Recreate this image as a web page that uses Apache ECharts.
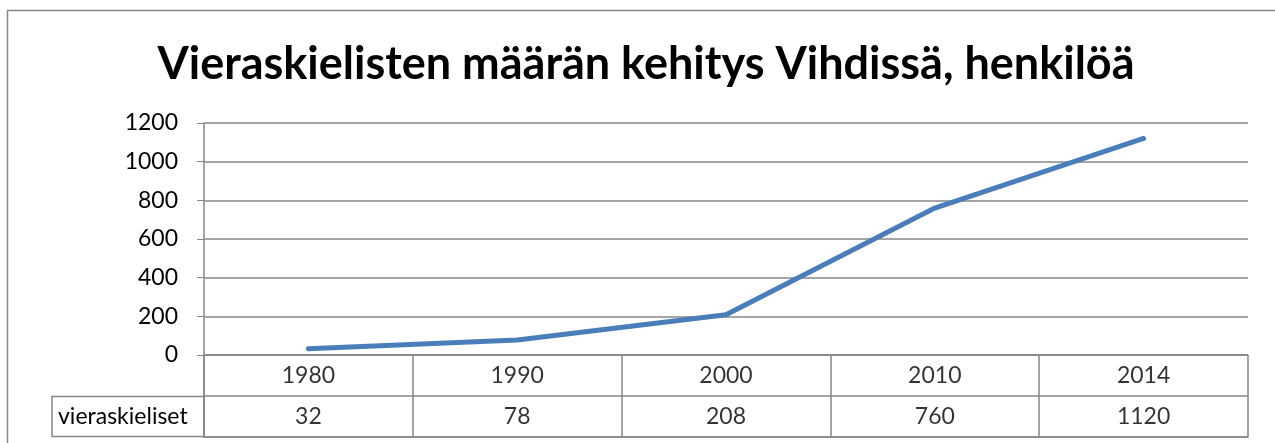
<!DOCTYPE html>
<html>
<head>
<meta charset="utf-8">
<script src="https://cdn.jsdelivr.net/npm/echarts@6/dist/echarts.min.js"></script>
<style>
    html, body { margin: 0; padding: 0; background: #fff; }
    #chart { width: 1275px; height: 443px; }
</style>
</head>
<body>
<div id="chart"></div>
<script>
var years = ['1980', '1990', '2000', '2010', '2014'];
var values = [32, 78, 208, 760, 1120];
var rowNames = ['vuosi', 'vieraskieliset'];
var yTicks = [0, 200, 400, 600, 800, 1000, 1200];

var gray = '#878787';
var font = 'Lato';

var chart = echarts.init(document.getElementById('chart'));

// table cells: row 0 = year, row 1 = value
var tableData = [];
years.forEach(function (y, i) {
    tableData.push({ value: [i, 0], label: { formatter: y } });
    tableData.push({ value: [i, 1], label: { formatter: String(values[i]) } });
});

var option = {
    animation: false,
    graphic: [{
        type: 'rect',
        shape: { x: 7.5, y: 10.5, width: 1400, height: 600 },
        style: { fill: 'none', stroke: gray, lineWidth: 1.5 }
    }],
    title: {
        text: 'Vieraskielisten määrän kehitys Vihdissä, henkilöä',
        left: 641,
        textAlign: 'center',
        top: 37,
        textStyle: { fontFamily: font, fontWeight: 'bold', fontSize: 45, color: '#000' }
    },
    grid: [
        { left: 204, right: 27, top: 123, height: 232 },
        { left: 204, right: 27, top: 355, height: 82 }
    ],
    xAxis: [{
        gridIndex: 0,
        type: 'category',
        data: years,
        boundaryGap: true,
        axisLine: { show: true, lineStyle: { color: gray, width: 1 } },
        axisTick: { show: false },
        axisLabel: { show: false },
        splitLine: { show: false }
    }, {
        gridIndex: 1,
        type: 'category',
        data: years,
        boundaryGap: true,
        axisLine: { show: true, lineStyle: { color: gray, width: 1.5 } },
        axisTick: { show: false },
        axisLabel: { show: false },
        splitLine: { show: true, lineStyle: { color: gray, width: 1.5 } }
    }],
    yAxis: [{
        gridIndex: 0,
        type: 'value',
        min: 0,
        max: 1200,
        interval: 200,
        axisLine: { show: true, lineStyle: { color: gray, width: 1.5 } },
        axisTick: { show: true, length: 7, lineStyle: { color: gray, width: 1 } },
        axisLabel: {
            margin: 26,
            color: '#000',
            fontFamily: font,
            fontSize: 23,
            formatter: function (v) { return yTicks.indexOf(v) >= 0 ? String(v) : ''; }
        },
        splitLine: { show: true, lineStyle: { color: gray, width: 1.5 } }
    }, {
        gridIndex: 1,
        type: 'category',
        data: rowNames,
        inverse: true,
        boundaryGap: true,
        axisLine: { show: true, lineStyle: { color: gray, width: 1.5 } },
        axisTick: { show: false },
        axisLabel: {
            margin: 0,
            formatter: function (v, i) { return i === 1 ? '{box|' + v + '}' : ''; },
            rich: {
                box: {
                    color: '#000',
                    fontFamily: font,
                    fontSize: 23,
                    width: 146,
                    height: 40,
                    lineHeight: 40,
                    padding: [0, 0, 0, 6],
                    align: 'left',
                    borderColor: gray,
                    borderWidth: 1.5
                }
            }
        },
        splitLine: { show: true, lineStyle: { color: gray, width: 1.5 } }
    }],
    series: [{
        type: 'line',
        xAxisIndex: 0,
        yAxisIndex: 0,
        data: values,
        symbol: 'none',
        lineStyle: { color: '#4a7ebb', width: 5, cap: 'round', join: 'round' }
    }, {
        type: 'scatter',
        xAxisIndex: 1,
        yAxisIndex: 1,
        data: tableData,
        symbolSize: 2,
        itemStyle: { color: 'rgba(0,0,0,0)' },
        label: {
            show: true,
            position: 'inside',
            color: '#000',
            fontFamily: font,
            fontSize: 23
        },
        silent: true
    }]
};

chart.setOption(option);
</script>
</body>
</html>
